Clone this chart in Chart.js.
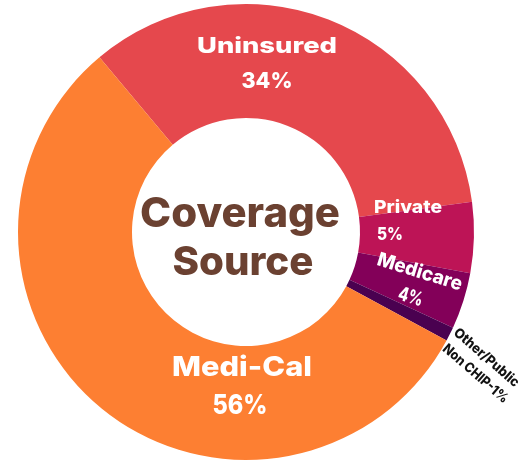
<!DOCTYPE html>
<html>
<head>
<meta charset="utf-8">
<script src="https://cdn.jsdelivr.net/npm/chart.js@4.4.1/dist/chart.umd.min.js"></script>
<style>
  html, body { margin: 0; padding: 0; background: #ffffff; }
  #wrap { width: 524px; height: 463px; position: relative; }
</style>
</head>
<body>
<div id="wrap"><canvas id="c"></canvas></div>
<script>
const categories = ["Uninsured", "Private", "Medicare", "Other/Public Non CHIP", "Medi-Cal"];
const shares = [34, 5, 4, 1, 56];
const sliceColors = ["#E5484D", "#BD1456", "#830059", "#4A0150", "#FD7F32"];
const labelLines = [
  ["Uninsured", "34%"],
  ["Private", "5%"],
  ["Medicare", "4%"],
  ["Other/Public", "Non CHIP-1%"],
  ["Medi-Cal", "56%"]
];
const centerLines = ["Coverage", "Source"];

const FONT = 'Inter, "DejaVu Sans", sans-serif';
const CAP = 0.727;

// text layout relative to the doughnut centre, for a 228px outer radius:
// dx/dy = anchor (centre of cap band for "mid" lines, baseline otherwise), cap = cap height, w = text width
const labelLayout = [
  { align: "center", rot: 0, color: "#ffffff", mid: false,
    lines: [{dx: 21, dy: -179.5, cap: 16, w: 140}, {dx: 21, dy: -144.5, cap: 16, w: 51}] },
  { align: "left", rot: 0, color: "#ffffff", mid: false,
    lines: [{dx: 128, dy: -19, cap: 13, w: 68}, {dx: 131, dy: 8, cap: 13, w: 26}] },
  { align: "center", rot: 17, color: "#ffffff", mid: true,
    lines: [{dx: 174, dy: 39, cap: 14, w: 88}, {dx: 165, dy: 64, cap: 14, w: 25}] },
  { align: "center", rot: 41, color: "#111111", mid: true,
    lines: [{dx: 241, dy: 125, cap: 10, w: 82}, {dx: 230, dy: 141, cap: 10, w: 82}] },
  { align: "center", rot: 0, color: "#ffffff", mid: false,
    lines: [{dx: -4, dy: 144, cap: 20, w: 140}, {dx: -6, dy: 181.5, cap: 20, w: 55}] }
];
const centerLayout = [{dx: -6, dy: -5, cap: 30, w: 200}, {dx: -3, dy: 43, cap: 29, w: 141}];

function drawFit(ctx, text, x, y, rot, ln, s, align, color, mid) {
  const cap = ln.cap * s;
  const size = cap / CAP;
  ctx.save();
  ctx.font = "800 " + size + "px " + FONT;
  const w = ctx.measureText(text).width;
  const sx = (ln.w * s) / w;
  ctx.translate(x, y);
  ctx.rotate(rot * Math.PI / 180);
  ctx.scale(sx, 1);
  ctx.fillStyle = color;
  ctx.textAlign = align;
  ctx.textBaseline = "alphabetic";
  ctx.fillText(text, 0, mid ? cap / 2 : 0);
  ctx.restore();
}

const labelPlugin = {
  id: "sliceLabels",
  afterDraw(chart) {
    const arc = chart.getDatasetMeta(0).data[0];
    if (!arc) return;
    const cx = arc.x, cy = arc.y, s = arc.outerRadius / 228;
    const ctx = chart.ctx;
    labelLayout.forEach((lay, i) => {
      lay.lines.forEach((ln, j) => {
        drawFit(ctx, labelLines[i][j], cx + ln.dx * s, cy + ln.dy * s, lay.rot, ln, s, lay.align, lay.color, lay.mid);
      });
    });
    centerLayout.forEach((ln, j) => {
      drawFit(ctx, centerLines[j], cx + ln.dx * s, cy + ln.dy * s, 0, ln, s, "center", "#6B4131", false);
    });
  }
};

new Chart(document.getElementById("c"), {
  type: "doughnut",
  data: {
    labels: categories,
    datasets: [{
      data: shares,
      backgroundColor: sliceColors,
      borderWidth: 0,
      hoverOffset: 0
    }]
  },
  options: {
    responsive: true,
    maintainAspectRatio: false,
    animation: false,
    cutout: "50%",
    rotation: -40,
    layout: { padding: { left: 18, right: 50, top: 4, bottom: 3 } },
    plugins: {
      legend: { display: false },
      tooltip: { enabled: false }
    }
  },
  plugins: [labelPlugin]
});
</script>
</body>
</html>
